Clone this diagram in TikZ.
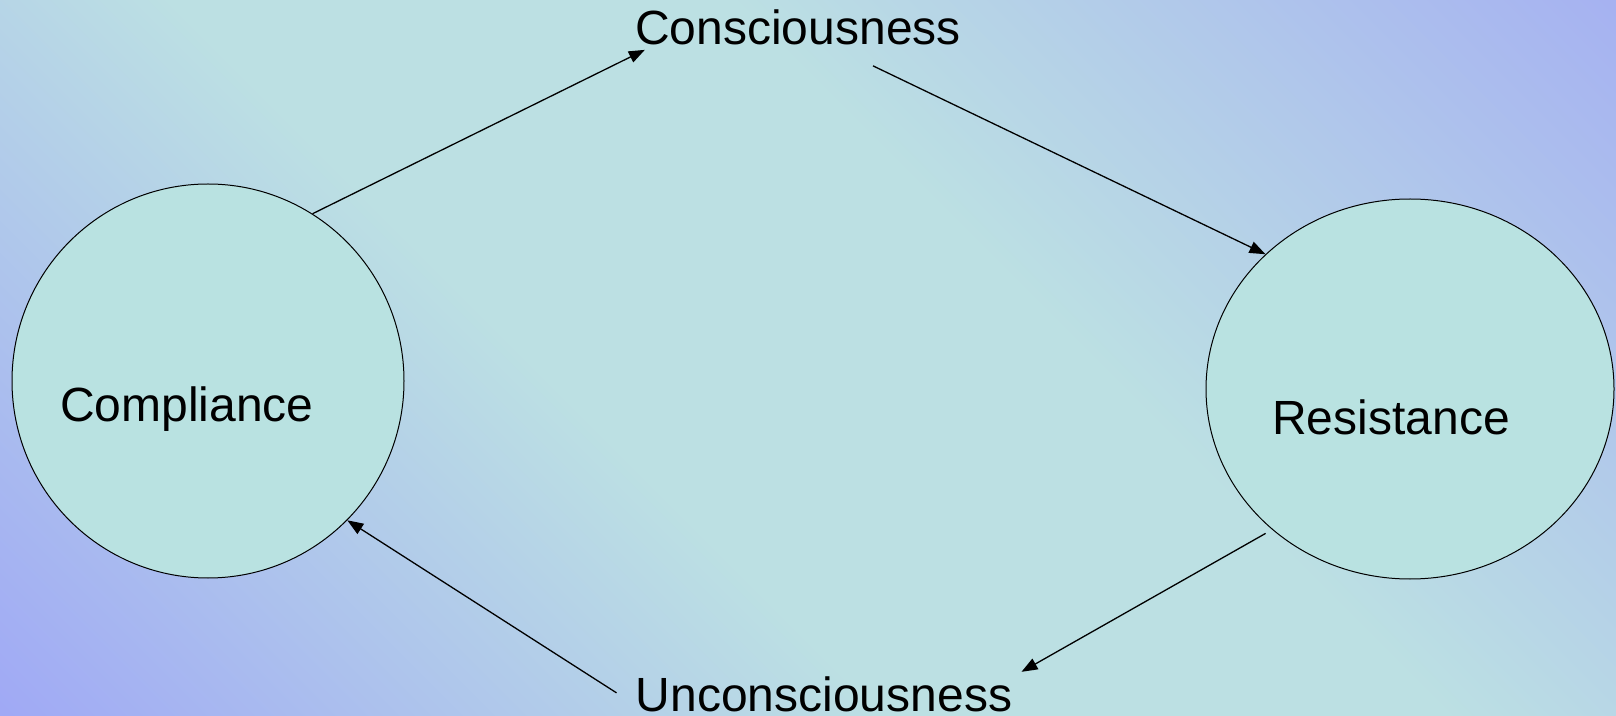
\documentclass[tikz,border=0pt]{standalone}
\usepackage{fontspec}
\setmainfont{Liberation Sans}
\usepackage{tikz}
\usetikzlibrary{arrows.meta, positioning, shapes.geometric, calc}
\usepackage{xcolor}
\definecolor{Lavender}{HTML}{A0A9F5}
\definecolor{LavenderTop}{HTML}{A6B2F1}
\definecolor{PaleCyan}{HTML}{BCE0E3}
\definecolor{CircleFill}{HTML}{B9E2E1}
\pgfdeclareverticalshading{backdrop}{100bp}{color(0bp)=(Lavender); color(25bp)=(Lavender);
  color(44bp)=(PaleCyan); color(56bp)=(PaleCyan);
  color(75bp)=(LavenderTop); color(100bp)=(LavenderTop)}

\begin{document}
\begin{tikzpicture}[x=0.5pt, y=-0.5pt,
  stage/.style={ellipse, draw=black, line width=0.5pt, fill=CircleFill, inner sep=0pt},
  lbl/.style={font=\fontsize{24}{28}\selectfont, inner sep=0pt, anchor=base},
  flow/.style={line width=0.65pt, -{Triangle[length=8pt, width=6pt]}}]
  % Background
  \begin{scope}
    \clip (0,0) rectangle (1616,716);
    \shade[shading=backdrop, shading angle=-45] (-16,-466) rectangle (1632,1182);
  \end{scope}
  \useasboundingbox (0,0) rectangle (1616,716);
  % Stages
  \node[stage, minimum width=196pt, minimum height=197pt] (comp) at (208,381) {};
  \node[stage, minimum width=204pt, minimum height=190pt] (res) at (1410,389) {};
  \node[lbl] (complbl) at (187,422) {Compliance};
  \node[lbl] (reslbl) at (1391,435) {Resistance};
  % States
  \node[lbl] (cons) at (798,45) {Consciousness};
  \node[lbl] (uncons) at (824,711) {Unconsciousness};
  % Cycle
  \draw[flow] (comp.58) -- ($(cons.south west)+(10,4)$);
  \draw[flow] ($(cons.south)+(75,20)$) -- (res.137);
  \draw[flow] ($(res.225)+(-5,5)$) -- ($(uncons.north east)+(9,-4)$);
  \draw[flow] ($(uncons.west)+(-19,-1)$) -- (comp.-45);
\end{tikzpicture}
\end{document}
